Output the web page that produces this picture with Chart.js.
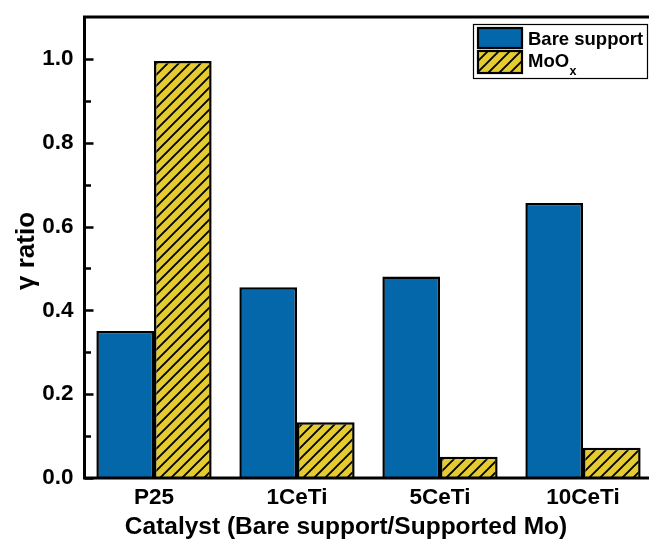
<!DOCTYPE html>
<html>
<head>
<meta charset="utf-8">
<script src="https://cdn.jsdelivr.net/npm/chart.js@4/dist/chart.umd.min.js"></script>
<style>
  html, body { margin: 0; padding: 0; background: #fff; overflow: hidden; }
  #wrap { width: 649px; height: 541px; overflow: hidden; position: relative; }
  #wrap canvas { position: absolute; left: 0; top: 0; }
</style>
</head>
<body>
<div id="wrap"><canvas id="c" width="662" height="541"></canvas></div>
<script>
// Catalysts and the γ ratio of each
const categories = ['P25', '1CeTi', '5CeTi', '10CeTi'];
const bareSupport = [0.351, 0.455, 0.481, 0.656];
const moOx = [0.995, 0.133, 0.051, 0.072];
const seriesNames = ['Bare support', 'MoOx'];
const yTicks = [0.0, 0.2, 0.4, 0.6, 0.8, 1.0];
const yMinorTicks = [0.1, 0.3, 0.5, 0.7, 0.9];
const xTitle = 'Catalyst (Bare support/Supported Mo)';
const yTitle = 'γ ratio';

const FONT = "'Liberation Sans', Arial, sans-serif";
const BLUE = '#0467AA';
const YELLOW = '#E3CB30';
const FRAME_LEFT = 84.5;

// Yellow fill with black "/" hatching
function makeHatch() {
  const s = 11;
  const t = document.createElement('canvas');
  t.width = s; t.height = s;
  const g = t.getContext('2d');
  g.fillStyle = YELLOW;
  g.fillRect(0, 0, s, s);
  g.strokeStyle = '#000';
  g.lineWidth = 1.9;
  g.beginPath();
  g.moveTo(-2, s + 2); g.lineTo(s + 2, -2);
  g.moveTo(-2, 2); g.lineTo(2, -2);
  g.moveTo(s - 2, s + 2); g.lineTo(s + 2, s - 2);
  g.stroke();
  return t.getContext('2d').createPattern(t, 'repeat');
}
const hatch = makeHatch();

// Frame, inward ticks, axis titles and the boxed legend
const decorations = {
  id: 'decorations',
  afterDraw(chart) {
    const { ctx, chartArea: a } = chart;
    const y = chart.scales.y;
    const left = FRAME_LEFT;
    ctx.save();
    ctx.strokeStyle = '#000';
    ctx.lineWidth = 3;
    ctx.strokeRect(left, a.top, a.right - left, a.bottom - a.top);

    ctx.lineWidth = 2.5;
    ctx.beginPath();
    yTicks.forEach(v => {
      const p = Math.round(y.getPixelForValue(v)) + 0.5;
      ctx.moveTo(left, p); ctx.lineTo(left + 9, p);
    });
    yMinorTicks.forEach(v => {
      const p = Math.round(y.getPixelForValue(v)) + 0.5;
      ctx.moveTo(left, p); ctx.lineTo(left + 6.5, p);
    });
    ctx.stroke();

    ctx.fillStyle = '#000';
    ctx.font = `bold 24.5px ${FONT}`;
    ctx.textAlign = 'center';
    ctx.textBaseline = 'alphabetic';
    ctx.fillText(xTitle, 346, 534);

    ctx.save();
    ctx.translate(34, 251);
    ctx.rotate(-Math.PI / 2);
    ctx.font = `bold 26px ${FONT}`;
    ctx.fillText(yTitle, 0, 0);
    ctx.restore();

    // legend
    const lx = 473.5, ly = 24.5, lw = 174, lh = 54;
    ctx.fillStyle = '#fff';
    ctx.fillRect(lx, ly, lw, lh);
    ctx.lineWidth = 1.2;
    ctx.strokeRect(lx, ly, lw, lh);
    const fills = [BLUE, hatch];
    const rows = [[28, 20], [51, 22]];
    chart.data.datasets.forEach((ds, i) => {
      const [sy, sh] = rows[i];
      ctx.fillStyle = fills[i];
      ctx.fillRect(478, sy, 44, sh);
      ctx.lineWidth = 2.2;
      ctx.strokeStyle = '#000';
      ctx.strokeRect(478, sy, 44, sh);
    });
    ctx.fillStyle = '#000';
    ctx.textAlign = 'left';
    ctx.textBaseline = 'alphabetic';
    ctx.font = `bold 18.5px ${FONT}`;
    ctx.fillText(seriesNames[0], 528, 45);
    const main = seriesNames[1].slice(0, -1);
    const sub = seriesNames[1].slice(-1);
    ctx.fillText(main, 528, 67);
    const w = ctx.measureText(main).width;
    ctx.font = `bold 12.5px ${FONT}`;
    ctx.fillText(sub, 528 + w + 0.5, 75);
    ctx.restore();
  }
};

new Chart(document.getElementById('c'), {
  type: 'bar',
  data: {
    labels: categories,
    datasets: [
      { label: seriesNames[0], data: bareSupport, backgroundColor: BLUE,
        borderColor: '#000', borderWidth: 2.5 },
      { label: seriesNames[1], data: moOx, backgroundColor: hatch,
        borderColor: '#000', borderWidth: 2.5 }
    ]
  },
  options: {
    responsive: false,
    animation: false,
    devicePixelRatio: 1,
    layout: { padding: { top: 17, right: 7.5, left: 0, bottom: 0 } },
    plugins: { legend: { display: false }, tooltip: { enabled: false } },
    datasets: { bar: { barPercentage: 1.0, categoryPercentage: 0.806 } },
    scales: {
      x: {
        grid: { display: false, drawTicks: false },
        border: { display: false },
        ticks: { color: '#000', padding: 6, font: { family: FONT, size: 22.5, weight: 'bold' } },
        afterFit(s) { s.height = 63; s.paddingLeft = 0; s.paddingRight = 0; }
      },
      y: {
        min: 0, max: 1.1,
        grid: { display: false, drawTicks: false },
        border: { display: false },
        afterBuildTicks(s) { s.ticks = yTicks.map(v => ({ value: v })); },
        ticks: {
          color: '#000', padding: 9,
          font: { family: FONT, size: 22.5, weight: 'bold' },
          callback: v => Number(v).toFixed(1)
        },
        afterFit(s) { s.width = 82.5; s.paddingTop = 0; s.paddingBottom = 0; }
      }
    }
  },
  plugins: [decorations]
});
</script>
</body>
</html>
